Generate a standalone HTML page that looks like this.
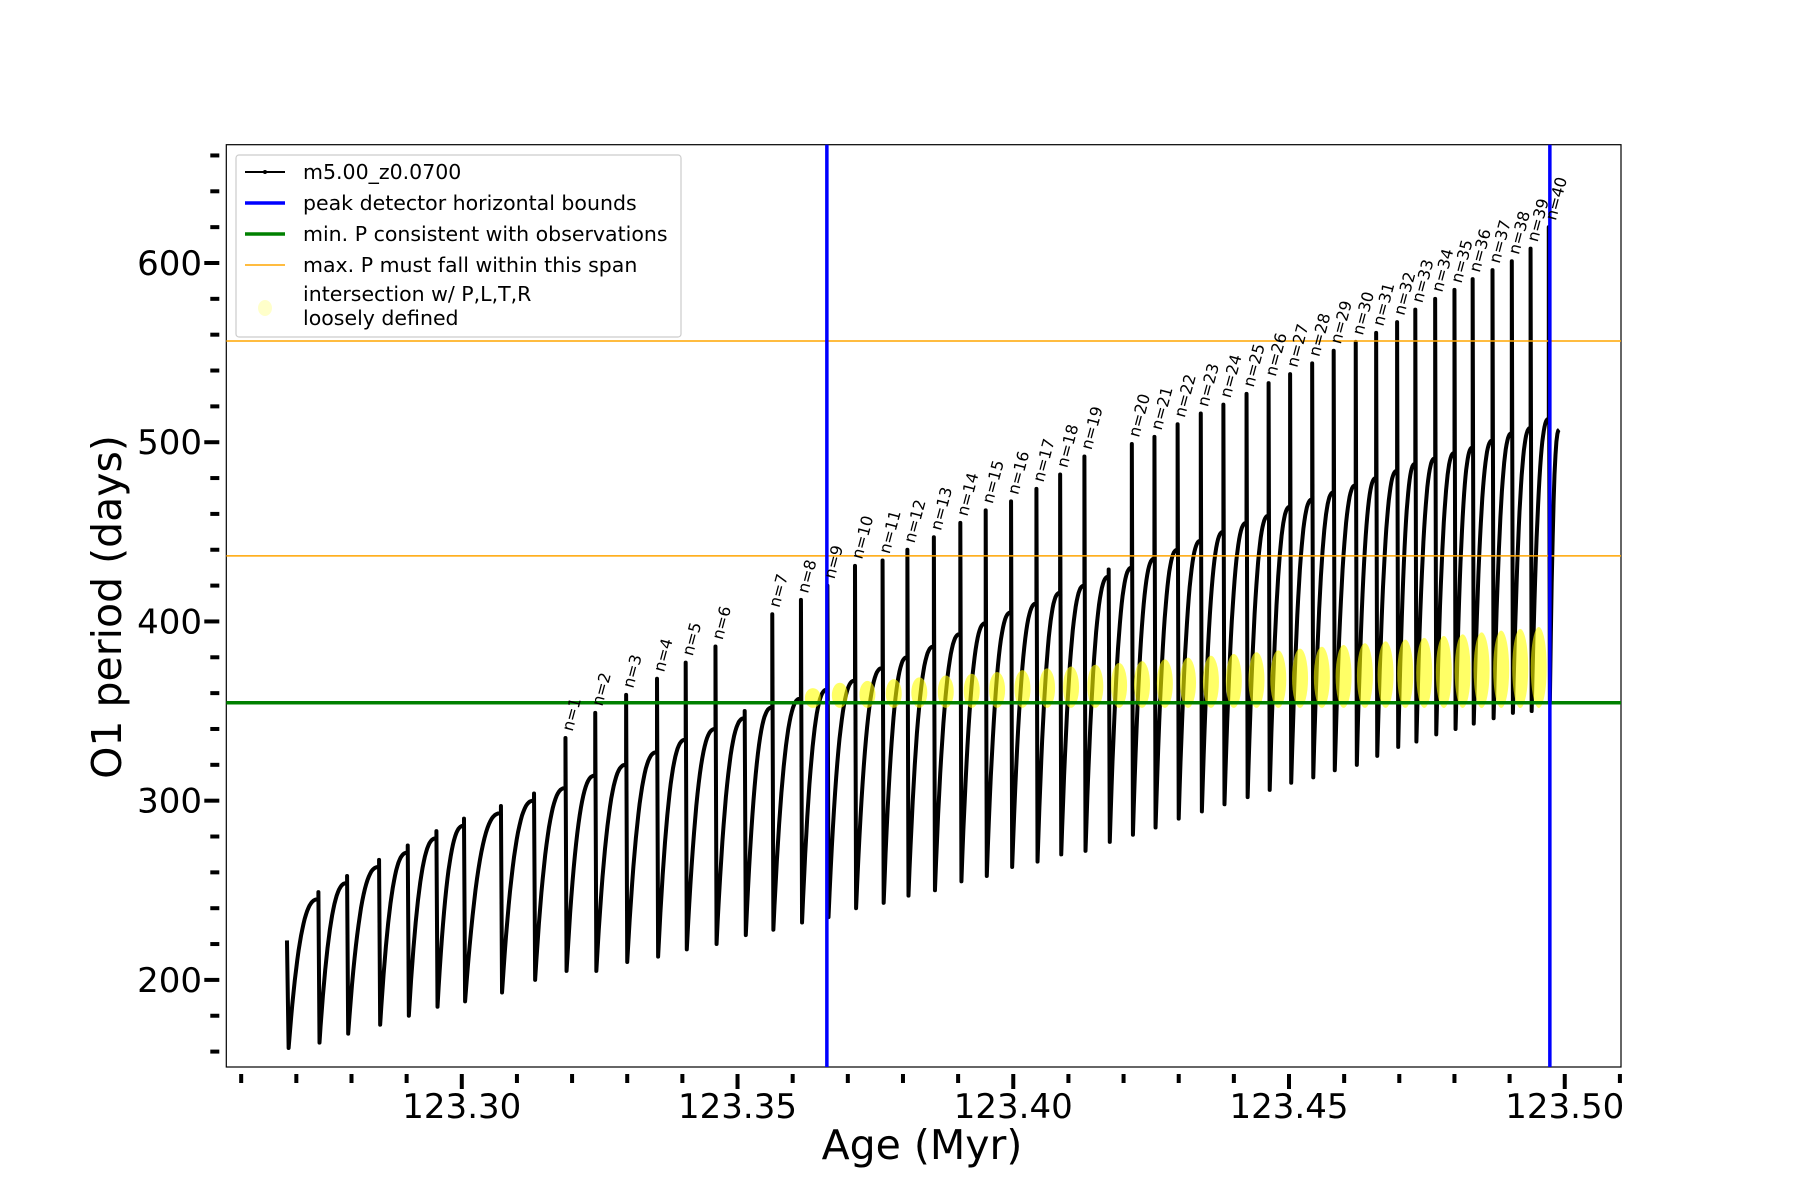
<!DOCTYPE html>
<html><head><meta charset="utf-8"><style>
html,body{margin:0;padding:0;background:#fff;}
svg{display:block;font-family:"DejaVu Sans","Liberation Sans",sans-serif;}
</style></head><body>
<svg id="chart" width="1800" height="1200" viewBox="0 0 1800 1200" xmlns="http://www.w3.org/2000/svg">
<rect x="226.3" y="144.7" width="1394.7" height="922.3" fill="#fff" stroke="#000" stroke-width="1.2"/>
<g id="marks"></g>
<g id="axes"></g>
<g>
<rect x="236" y="155" width="445" height="182" fill="#fff" stroke="#ccc" stroke-width="1.2" rx="3"/>
<line x1="245" y1="172" x2="285" y2="172" stroke="#000" stroke-width="2"/>
<circle cx="265" cy="172" r="2" fill="#000"/>
<text x="303" y="179" font-size="20.5">m5.00_z0.0700</text>
<line x1="245" y1="203" x2="285" y2="203" stroke="#0000ff" stroke-width="3.5"/>
<text x="303" y="210" font-size="20.5">peak detector horizontal bounds</text>
<line x1="245" y1="234" x2="285" y2="234" stroke="#008000" stroke-width="3.5"/>
<text x="303" y="241" font-size="20.5">min. P consistent with observations</text>
<line x1="245" y1="265" x2="285" y2="265" stroke="#ffa500" stroke-width="1.5"/>
<text x="303" y="272" font-size="20.5">max. P must fall within this span</text>
<ellipse cx="265" cy="308" rx="7" ry="8" fill="#ffff66" opacity="0.35"/>
<text x="303" y="301" font-size="20.5">intersection w/ P,L,T,R</text>
<text x="303" y="325" font-size="20.5">loosely defined</text>
</g>
<text x="922" y="1159" font-size="41" text-anchor="middle">Age (Myr)</text>
<text x="121" y="607" font-size="41" text-anchor="middle" transform="rotate(-90 121 607)">O1 period (days)</text>
</svg>
<script>
const dipAges=[123.2740,123.2792,123.2850,123.2902,123.2954,123.3004,123.3071,123.3131,123.3188,123.3242,123.3298,123.3354,123.3406,123.3460,123.3513,123.3563,123.3615,123.3663,123.3713,123.3763,123.3808,123.3856,123.3904,123.3950,123.3996,123.4042,123.4085,123.4129,123.4173,123.4215,123.4256,123.4298,123.4340,123.4381,123.4423,123.4463,123.4502,123.4542,123.4581,123.4621,123.4658,123.4696,123.4729,123.4765,123.4800,123.4833,123.4869,123.4904,123.4938,123.4971];
const cycleTops=[245,254,263,271,279,286,293,300,307,314,320,327,334,340,346,352,357,362,367,374,380,386,393,399,405,410,416,420,425,430,435,440,445,450,455,459,464,468,472,476,480,484,488,491,494,497,501,505,508,513];
const cycleMins=[165,170,175,180,185,188,193,200,205,205,210,213,217,220,225,228,232,235,240,243,247,250,255,258,263,266,270,272,277,281,285,290,294,298,302,306,310,313,317,320,325,330,333,337,340,343,346,349,350,355];
const labelN=[1,2,3,4,5,6,7,8,9,10,11,12,13,14,15,16,17,18,19,20,21,22,23,24,25,26,27,28,29,30,31,32,33,34,35,36,37,38,39,40];
const labelDipIndex=[8,9,10,11,12,13,15,16,17,18,19,20,21,22,23,24,25,26,27,29,30,31,32,33,34,35,36,37,38,39,40,41,42,43,44,45,46,47,48,49];
const peakValues=[335,349,359,368,377,386,404,412,420,431,434,440,447,455,462,467,474,482,492,499,503,510,516,521,527,533,538,544,551,556,561,567,574,580,585,591,596,601,608,620];
const startAge=123.2683, startVal=222, firstMin=162, endAge=123.4990, endVal=507;
const blueLines=[123.3662,123.4973];
const orangeLines=[556.5,436.6];
const greenLine=354.6;
const xTicks=[123.30,123.35,123.40,123.45,123.50];
const yTicks=[200,300,400,500,600];

const X0=226.3,X1=1621,Y0=144.7,Y1=1067;
const xMin=123.2573,xMax=123.5102,yMin=151.4,yMax=666;
const sx=a=>X0+(a-xMin)/(xMax-xMin)*(X1-X0);
const sy=v=>Y1-(v-yMin)/(yMax-yMin)*(Y1-Y0);
const NS="http://www.w3.org/2000/svg";
const marks=document.getElementById('marks'), axes=document.getElementById('axes');
function mk(tag,attrs,parent){const e=document.createElementNS(NS,tag);for(const k in attrs)e.setAttribute(k,attrs[k]);parent.appendChild(e);return e;}

let d=`M${sx(startAge)},${sy(startVal)} L${sx(startAge+0.0003)},${sy(firstMin)}`;
let prevAge=startAge+0.0003, prevMin=firstMin;
const peakOf={};labelDipIndex.forEach((di,k)=>peakOf[di]=peakValues[k]);
for(let i=0;i<dipAges.length;i++){
  const a0=prevAge,a1=dipAges[i],top=cycleTops[i];
  for(let s=1;s<=24;s++){const t=s/24;const a=a0+(a1-a0)*t;const v=prevMin+(top-prevMin)*(1-Math.pow(1-t,2.6));d+=` L${sx(a).toFixed(1)},${sy(v).toFixed(1)}`;}
  const pk=peakOf[i]!==undefined?peakOf[i]:top+4;
  d+=` L${sx(a1)},${sy(pk)} L${sx(a1+0.0002)},${sy(cycleMins[i])}`;
  prevAge=a1+0.0002;prevMin=cycleMins[i];
}
for(let s=1;s<=10;s++){const t=s/10;const a=prevAge+(endAge-prevAge)*t;d+=` L${sx(a).toFixed(1)},${sy(prevMin+(endVal-prevMin)*(1-Math.pow(1-t,2.6))).toFixed(1)}`;}
const curve=mk('path',{d:d,fill:'none',stroke:'#000','stroke-width':4,'stroke-linejoin':'round'},marks);



orangeLines.forEach(v=>{const l=mk('line',{x1:X0,x2:X1,y1:sy(v),y2:sy(v),stroke:'#ffa500','stroke-width':1.5},marks);

});

for(let i=17;i<dipAges.length;i++){
  const a=dipAges[i-1]*0.55+dipAges[i]*0.45;
  const top=Math.min(cycleTops[i]-2,362+(i-17)*1.0);
  const cy=(greenLine+top)/2, ry=Math.max(9,(top-greenLine)/2*1.8+5);
  const e=mk('ellipse',{cx:sx(a),cy:sy(cy),rx:8,ry:ry,fill:'#ffff00',opacity:0.6},marks);
  
  
}
const g=mk('line',{x1:X0,x2:X1,y1:sy(greenLine),y2:sy(greenLine),stroke:'#008000','stroke-width':3.5},marks);


blueLines.forEach(a=>{const l=mk('line',{x1:sx(a),x2:sx(a),y1:Y0,y2:Y1,stroke:'#0000ff','stroke-width':3.5},marks);

});

labelDipIndex.forEach((di,k)=>{
  const x=sx(dipAges[di])+7,y=sy(peakValues[k])-6;
  const t=mk('text',{x:x,y:y,'font-size':16,transform:`rotate(-75 ${x} ${y})`},marks);
  t.textContent='n='+labelN[k];
  
  
});

for(let k=0;k<=25;k++){const a=123.26+k*0.01;if(a>xMax)break;const x=sx(a);const major=k%5==4;
  const l=mk('line',{x1:x,x2:x,y1:Y1+7,y2:Y1+(major?22:16),stroke:'#000','stroke-width':4},axes);
  
  }
xTicks.forEach(a=>{const t=mk('text',{x:sx(a),y:1118,'font-size':34,'text-anchor':'middle'},axes);t.textContent=a.toFixed(2);
  
  });
for(let v=160;v<=660;v+=20){const y=sy(v);const major=v%100==0;
  const l=mk('line',{x1:X0-(major?22:16),x2:X0-7,y1:y,y2:y,stroke:'#000','stroke-width':4},axes);
  
  }
yTicks.forEach(v=>{const t=mk('text',{x:202,y:sy(v)+12,'font-size':34,'text-anchor':'end'},axes);t.textContent=v;
  
  });
</script>
</body></html>
